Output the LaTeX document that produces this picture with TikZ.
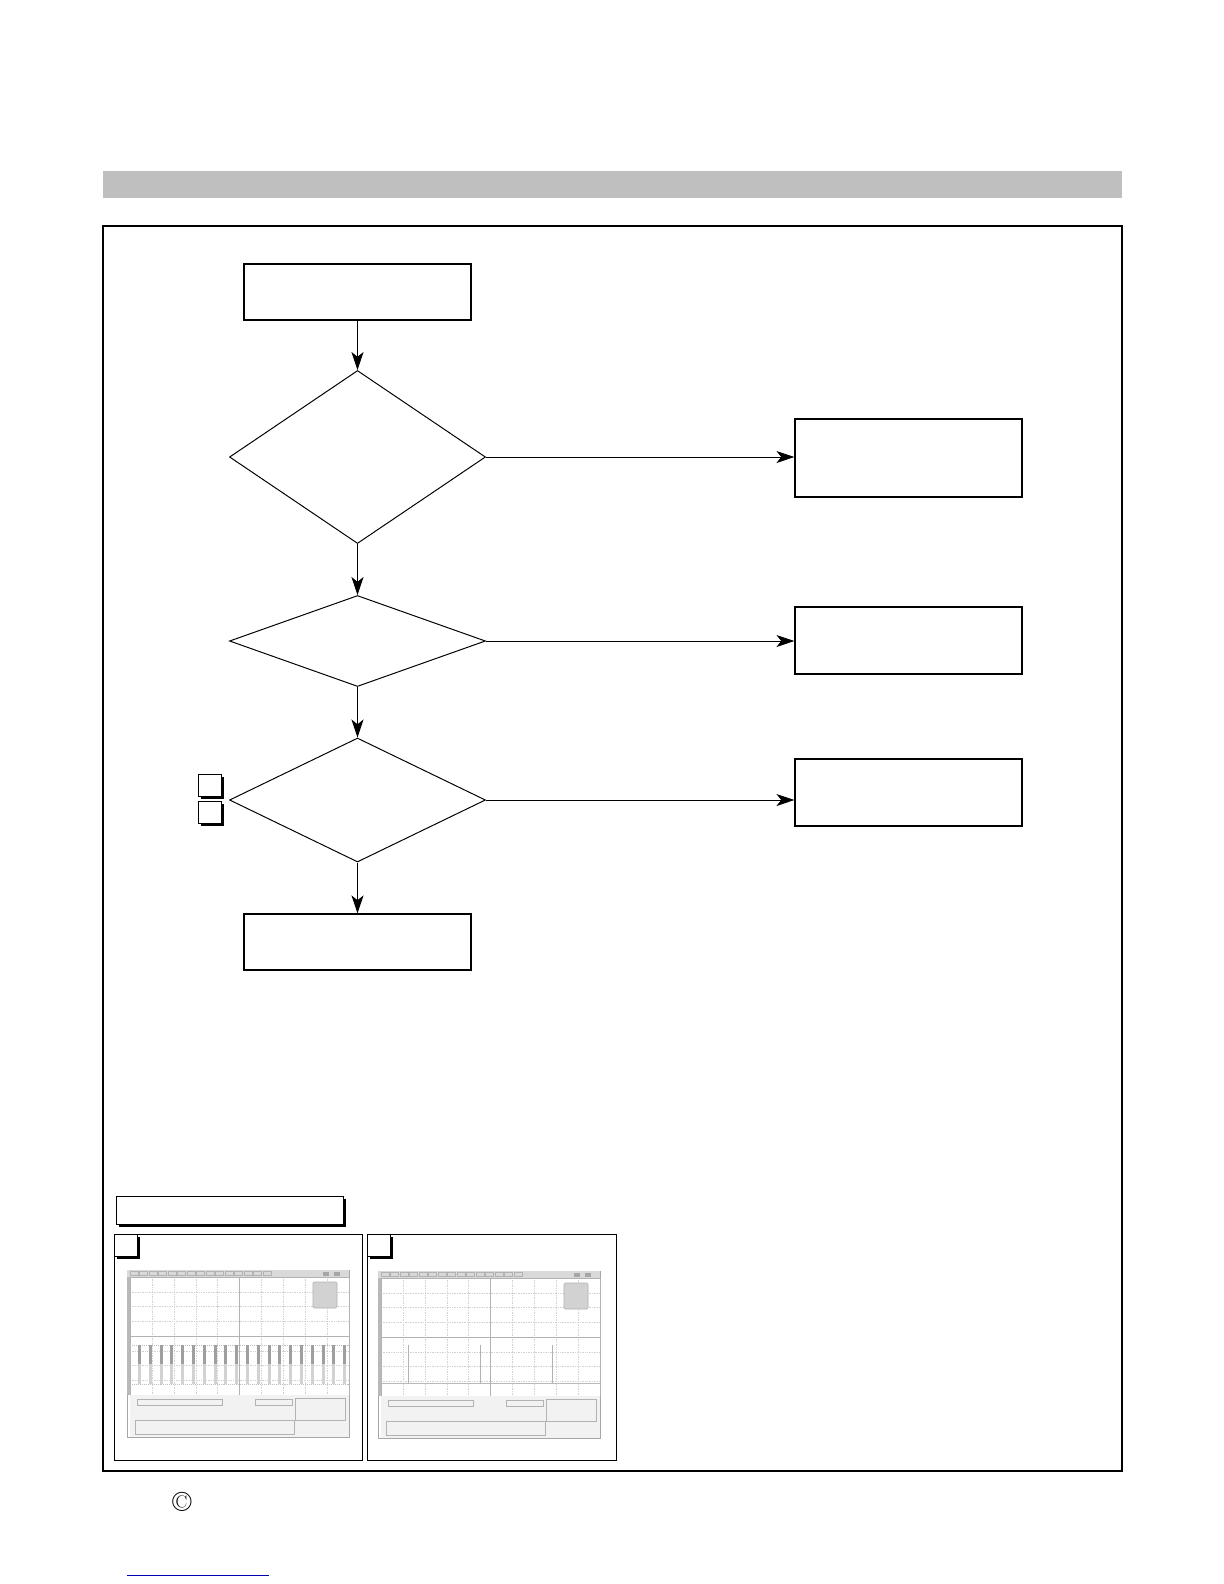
\documentclass[tikz,border=0pt]{standalone}
\usepackage{xcolor}
\usepackage{tikz}
\usetikzlibrary{arrows.meta,positioning,shapes.geometric,shadows,calc}
\tikzset{
  flowbox/.style={draw, line width=0.8pt, rectangle, minimum width=56.75mm, inner sep=0pt},
  decision/.style={draw, line width=0.7pt, diamond, minimum width=64mm, inner sep=0pt},
  tagbox/.style={draw, line width=0.7pt, fill=white, minimum width=5.75mm, minimum height=5.5mm,
                 inner sep=0pt, general shadow={fill=black, shadow xshift=0.75mm, shadow yshift=-0.75mm}},
  flowline/.style={line width=0.7pt, -{Stealth[length=4.5mm, width=3mm, inset=1.2mm]}},
  panel/.style={draw, line width=0.7pt, inner sep=0pt},
}
\newcommand{\scopescreen}[2]{%
  \begin{scope}[shift={(#1)}]
    \draw[gray!70, fill=white] (0,0) rectangle (222,167);
    \fill[gray!30] (0,0) rectangle (222,7);
    \foreach \t in {0,...,14} \draw[gray!60, line width=0.2pt] ({3+\t*9.5},1.5) rectangle ({11+\t*9.5},5.5);
    \fill[gray!70] (196,1.5) rectangle (202,5.5);
    \fill[gray!70] (207,1.5) rectangle (213,5.5);
    \fill[gray!55] (0,7) rectangle (3,125);
    \foreach \gx in {1,...,9} \draw[gray!35, densely dotted, line width=0.2pt] ({3+\gx*21.9},7) -- ({3+\gx*21.9},125);
    \foreach \gy in {1,...,7} \draw[gray!35, densely dotted, line width=0.2pt] (3,{7+\gy*14.75}) -- (222,{7+\gy*14.75});
    \draw[gray!60, line width=0.3pt] (112.5,7) -- (112.5,125);
    \draw[gray!60, line width=0.3pt] (3,66) -- (222,66);
    \draw[gray!60] (3,7) rectangle (222,125);
    \draw[gray!60, fill=gray!35, rounded corners=0.3mm] (186,12) rectangle (210,38);
    \fill[gray!10] (3,125) rectangle (222,167);
    \draw[gray!60, line width=0.3pt] (10,129) rectangle (95,135);
    \draw[gray!60, line width=0.3pt] (128,129) rectangle (165,135);
    \draw[gray!60, line width=0.3pt] (168,128) rectangle (218,150);
    \draw[gray!60, line width=0.3pt] (8,150) rectangle (167,164);
    #2
  \end{scope}
}

\begin{document}
\begin{tikzpicture}[x=0.25mm, y=-0.25mm, >=Stealth]
  \useasboundingbox (0,0) rectangle (1224,1584);
  \fill[black!25] (103,171) rectangle (1122,198);
  \draw[line width=0.8pt] (103,226) rectangle (1122,1471);

  % main flow
  \node[flowbox, minimum height=14mm] (start) at (357.5,292) {};
  \node[decision, minimum height=43.25mm] (d1) at (357.5,457) {};
  \node[decision, minimum height=22.75mm] (d2) at (357.5,641) {};
  \node[decision, minimum height=31mm] (d3) at (357.5,800) {};
  \node[flowbox, minimum height=14mm] (finish) at (357.5,942) {};
  \node[flowbox, minimum height=19.5mm] (box1) at (908.5,458) {};
  \node[flowbox, minimum height=16.75mm] (box2) at (908.5,640.5) {};
  \node[flowbox, minimum height=16.75mm] (box3) at (908.5,792.5) {};
  \node[tagbox] (tagA) at (209.5,785) {};
  \node[tagbox] (tagB) at (209.5,812) {};

  \draw[flowline] (start.south) -- (d1.north);
  \draw[flowline] (d1.south) -- (d2.north);
  \draw[flowline] (d2.south) -- (d3.north);
  \draw[flowline] (d3.south) -- (finish.north);
  \draw[flowline] (d1.east) -- (d1.east -| box1.west);
  \draw[flowline] (d2.east) -- (d2.east -| box2.west);
  \draw[flowline] (d3.east) -- (d3.east -| box3.west);

  % waveforms
  \node[tagbox, minimum width=56.75mm, minimum height=7mm] (wavehead) at (229.5,1210) {};
  \node[panel, minimum width=62mm, minimum height=56.5mm] (p1) at (238,1347) {};
  \node[panel, minimum width=62.25mm, minimum height=56.5mm] (p2) at (491.5,1347) {};
  \node[tagbox, anchor=north west] (tagP1) at (p1.north west) {};
  \node[tagbox, anchor=north west] (tagP2) at (p2.north west) {};
  \scopescreen{127,1270}{%
    \draw[gray!50, densely dotted] (3,75) -- (222,75);
    \foreach \k in {0,...,19} {
      \fill[gray!75] ({11+\k*10.8},75) rectangle ({14+\k*10.8},94);
      \fill[gray!35] ({11+\k*10.8},94) rectangle ({14+\k*10.8},114);
    }
    \draw[gray!50, densely dotted] (3,114) -- (222,114);
  }
  \scopescreen{378,1271}{%
    \draw[gray!55, line width=0.4pt] (3,112) -- (222,112);
    \foreach \sx in {30,102,174} \draw[gray!60, line width=0.5pt] (\sx,112) -- (\sx,74);
  }

  \node[font=\fontsize{20}{20}\selectfont, inner sep=0pt] (copy) at (182,1502) {\textcopyright};
  \draw[blue!70!black, line width=0.4pt] (127,1575) -- (269,1575);
\end{tikzpicture}
\end{document}
